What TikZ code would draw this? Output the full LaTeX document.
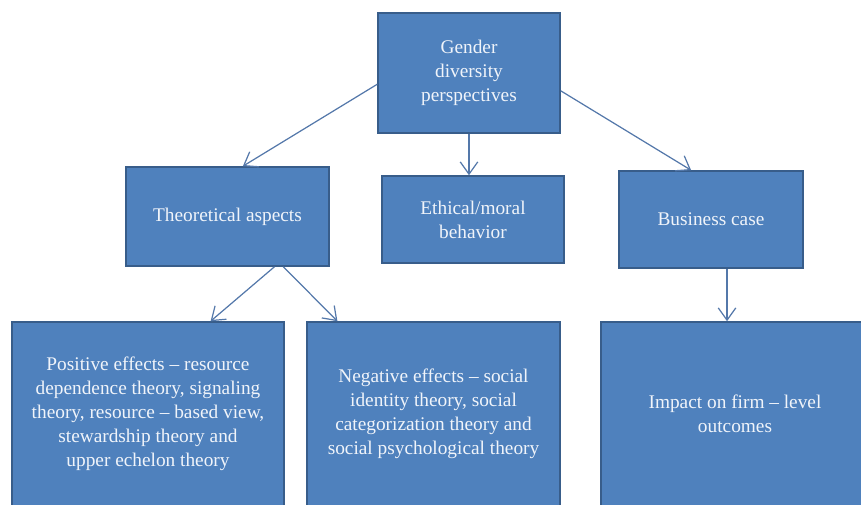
\documentclass[tikz,border=0pt]{standalone}
\usepackage{fontspec}
\setmainfont{Liberation Serif}
\usetikzlibrary{arrows.meta}
\definecolor{cajaazul}{RGB}{79,129,189}
\definecolor{bordeazul}{RGB}{56,93,138}
\definecolor{flechaazul}{RGB}{84,120,170}
\definecolor{textoclaro}{RGB}{240,244,250}
\tikzset{
  caja/.style={draw=bordeazul, line width=0.9pt, fill=cajaazul, text=textoclaro,
    align=center, inner sep=0pt, font=\fontsize{11}{13.6}\selectfont},
  flecha/.style={draw=flechaazul, line width=0.7pt,
    -{Straight Barb[length=7pt, width=10pt]}}
}
\begin{document}
\begin{tikzpicture}[x=0.02cm, y=-0.02cm]
                \useasboundingbox (0, 0) rectangle (861, 504);

                % Nodo principal
                \node[caja, minimum width=182*0.02cm, minimum height=120*0.02cm] (perspectivas) at (469, 73) {Gender\\diversity\\perspectives};

                % Segundo nivel
                \node[caja, minimum width=203*0.02cm, minimum height=99*0.02cm] (teoricos) at (227.5, 216.5) {Theoretical aspects};
                \node[caja, minimum width=182*0.02cm, minimum height=87*0.02cm] (etico) at (473, 219.5) {Ethical/moral\\behavior};
                \node[caja, minimum width=184*0.02cm, minimum height=97*0.02cm] (negocio) at (711, 219.5) {Business case};

                % Tercer nivel
                \node[caja, minimum width=272*0.02cm, minimum height=184*0.02cm] (positivos) at (148, 414) {Positive effects -- resource\\dependence theory, signaling\\theory, resource -- based view,\\stewardship theory and\\upper echelon theory};
                \node[caja, minimum width=253*0.02cm, minimum height=184*0.02cm] (negativos) at (433.5, 414) {Negative effects -- social\\identity theory, social\\categorization theory and\\social psychological theory};
                \node[caja, minimum width=268*0.02cm, minimum height=184*0.02cm] (impacto) at (735, 414) {Impact on firm -- level\\outcomes};

                % Flechas
                \draw[flecha] (perspectivas.187) -- (teoricos.73);
                \draw[flecha] (perspectivas.south) -- (perspectivas.south |- etico.north);
                \draw[flecha] (perspectivas.349) -- (negocio.112);
                \draw[flecha] (teoricos.313) -- (positivos.56);
                \draw[flecha] (teoricos.318) -- (negativos.136);
                \draw[flecha] (negocio.288) -- (negocio.288 |- impacto.north);
            \end{tikzpicture}
\end{document}
